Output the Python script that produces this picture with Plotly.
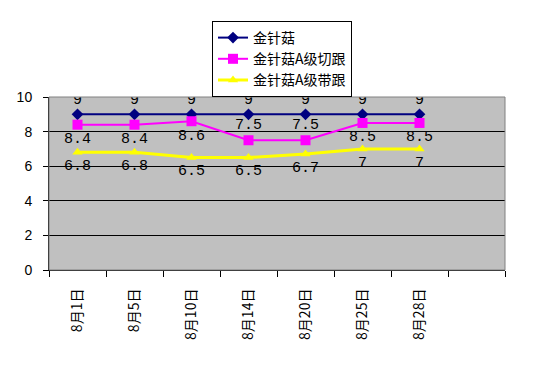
import plotly.graph_objects as go

dates = ["8月1日", "8月5日", "8月10日", "8月14日", "8月20日", "8月25日", "8月28日"]
s1_name = "金针菇"
s1 = [9, 9, 9, 9, 9, 9, 9]
s2_name = "金针菇A级切跟"
s2 = [8.4, 8.4, 8.6, 7.5, 7.5, 8.5, 8.5]
s3_name = "金针菇A级带跟"
s3 = [6.8, 6.8, 6.5, 6.5, 6.7, 7, 7]
y_ticks = [0, 2, 4, 6, 8, 10]

x = list(range(len(dates)))
label_font = dict(family="Liberation Mono, DejaVu Sans Mono, monospace", size=15, color="black")

fig = go.Figure()
fig.add_trace(go.Scatter(
    x=x, y=s1, name=s1_name, mode="lines+markers+text",
    line=dict(color="#000080", width=2),
    marker=dict(symbol="diamond", size=9, color="#000080"),
    text=[f"{v:g}" for v in s1], textposition="top center", textfont=label_font,
))
s2_pos = ["bottom center", "bottom center", "bottom center", "top center", "top center",
          "bottom center", "bottom center"]
fig.add_trace(go.Scatter(
    x=x, y=s2, name=s2_name, mode="lines+markers+text",
    line=dict(color="#FF00FF", width=2),
    marker=dict(symbol="square", size=10, color="#FF00FF"),
    text=[f"{v:g}" for v in s2], textposition=s2_pos, textfont=label_font,
))
fig.add_trace(go.Scatter(
    x=x, y=s3, name=s3_name, mode="lines+markers+text",
    line=dict(color="#FFFF00", width=3),
    marker=dict(symbol="triangle-up", size=9, color="#FFFF00"),
    text=[f"{v:g}" for v in s3], textposition="bottom center", textfont=label_font,
))

# page has an 8px body offset; compensate so the plot lands where the reference has it
OFF = 8
W, H = 559 - OFF, 376 - OFF
L, R, T, B = 49 - OFF, 54, 97 - OFF, 106
pw, ph = W - L - R, H - T - B
n_slots = len(dates) + 1
fig.update_layout(
    width=W, height=H,
    margin=dict(l=L, r=R, t=T, b=B, autoexpand=False),
    paper_bgcolor="white",
    plot_bgcolor="#C0C0C0",
    font=dict(family="Liberation Sans, Arial, sans-serif", size=14, color="black"),
    showlegend=True,
    legend=dict(
        x=(212 - 49) / pw, y=1 + (97 - 21) / ph,
        xanchor="left", yanchor="top",
        bgcolor="white", bordercolor="black", borderwidth=1,
        font=dict(family="Noto Sans CJK SC, sans-serif", size=14, color="black"),
        tracegroupgap=0, itemwidth=30, entrywidth=125, entrywidthmode="pixels",
    ),
    shapes=[dict(type="rect", xref="paper", yref="paper", x0=0, x1=1, y0=0, y1=1,
                 line=dict(color="#808080", width=1), layer="above")],
)
fig.update_xaxes(
    range=[-0.5, n_slots - 0.5],
    tickvals=x, ticktext=dates, tickangle=-90, ticks="", ticklen=0,
    ticklabelstandoff=12, automargin=False,
    tickfont=dict(family="Noto Sans CJK SC, sans-serif", size=14),
    showgrid=False, zeroline=False,
    showline=True, linecolor="black", linewidth=1,
    minor=dict(tickvals=[i - 0.5 for i in range(n_slots + 1)], ticks="outside",
               ticklen=6, tickcolor="black", showgrid=False),
)
fig.update_yaxes(
    range=[0, 10], tickvals=y_ticks, ticks="outside", ticklen=5, tickcolor="black",
    showgrid=True, gridcolor="black", gridwidth=1, zeroline=False,
    showline=True, linecolor="black", linewidth=1, automargin=False,
    tickfont=dict(size=14), ticklabelstandoff=8,
)
fig.write_html("out.html")
